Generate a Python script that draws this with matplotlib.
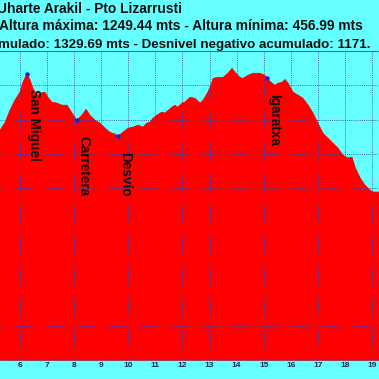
import matplotlib
matplotlib.use("Agg")
import matplotlib.pyplot as plt

# elevation profile (km, metres)
km = [5.08, 5.26, 5.45, 5.63, 5.81, 6.00, 6.11, 6.26, 6.37, 6.48, 6.63, 6.74, 6.92,
      7.03, 7.18, 7.37, 7.55, 7.74, 7.92, 8.10, 8.29, 8.44, 8.58, 8.77, 8.95,
      9.14, 9.32, 9.51, 9.62, 9.80, 9.99, 10.17, 10.36, 10.54, 10.69, 10.80,
      10.91, 11.06, 11.24, 11.35, 11.47, 11.61, 11.72, 11.83, 11.98, 12.09,
      12.28, 12.46, 12.65, 12.76, 12.94, 13.09, 13.13, 13.31, 13.50, 13.68,
      13.83, 13.94, 14.12, 14.23, 14.42, 14.60, 14.86, 15.05, 15.12, 15.31,
      15.42, 15.53, 15.68, 15.79, 15.90, 16.08, 16.27, 16.45, 16.64, 16.82,
      17.00, 17.19, 17.37, 17.56, 17.74, 17.93, 18.11, 18.26, 18.37, 18.56,
      18.74, 18.92, 19.04, 19.26, 19.40]
alt = [1046, 1069, 1092, 1127, 1156, 1180, 1209, 1234, 1215, 1191, 1171, 1177, 1180,
       1165, 1151, 1148, 1142, 1142, 1119, 1098, 1113, 1130, 1113, 1098, 1090,
       1075, 1063, 1058, 1052, 1063, 1075, 1078, 1084, 1078, 1090, 1092,
       1104, 1113, 1122, 1119, 1127, 1136, 1142, 1136, 1148, 1151,
       1165, 1162, 1148, 1156, 1180, 1209, 1220, 1223, 1223, 1235,
       1249.44, 1238, 1223, 1220, 1229, 1235, 1235, 1229, 1220, 1206,
       1200, 1206, 1209, 1217, 1206, 1180, 1171, 1162, 1142, 1119,
       1090, 1060, 1046, 1031, 1017, 996, 988, 991, 962, 930,
       909, 895, 889, 889, 885]

waypoints = ["San Miguel", "Carretera", "Desvío", "Igaratxa"]
wp_km = [6.26, 8.10, 9.62, 15.12]
wp_alt = [1234, 1098, 1052, 1220]

xticks = list(range(6, 20))

titles = [
    "Uharte Arakil - Pto Lizarrusti",
    "Altura máxima: 1249.44 mts - Altura mínima: 456.99 mts",
    "mulado: 1329.69 mts - Desnivel negativo acumulado: 1171.",
]

bg = "#66ffff"
plt.rcParams["font.family"] = ["Liberation Sans", "DejaVu Sans"]

fig = plt.figure(figsize=(3.79, 3.79), dpi=100, facecolor=bg)
ax = fig.add_axes([0, 1 - 360 / 379, 1, 309 / 379])
ax.set_facecolor(bg)

ax.fill_between(km, alt, 400, color="#ff0000", linewidth=0, zorder=2)
ax.plot(km, alt, color="#ff0000", linewidth=0.6, zorder=3)
ax.plot(wp_km, wp_alt, "o", color="#2020d0", markersize=2.2, zorder=5)

for name, x, y in zip(waypoints, wp_km, wp_alt):
    ax.text(x, y - 45, name, rotation=-90, ha="left", va="top",
            fontsize=9.8, fontweight="bold", color="#111111", zorder=6)

ax.set_xlim(5.261, 19.257)
ax.set_ylim(400, 1300)
ax.set_xticks(xticks)
ax.set_yticks(range(400, 1301, 100))
ax.set_yticklabels([])
ax.tick_params(axis="x", length=0, pad=1.5, labelsize=6, labelcolor="#1a2a5a")
ax.tick_params(axis="y", length=0)
for lab in ax.get_xticklabels():
    lab.set_fontweight("bold")
ax.grid(True, color="#3a40b0", linestyle=(0, (1, 1.2)), linewidth=0.7,
        alpha=0.8, zorder=4)
ax.set_axisbelow(False)
for side in ["left", "right"]:
    ax.spines[side].set_visible(False)
ax.spines["top"].set_color("#5080b0")
ax.spines["top"].set_linewidth(0.8)
ax.spines["bottom"].set_color("#a02040")
ax.spines["bottom"].set_linewidth(0.6)

baselines = [13, 30.5, 48]
starts = [-3, -1, -1.5]
sizes = [9.9, 9.9, 9.6]
for text, b, s, fs in zip(titles, baselines, starts, sizes):
    fig.text(s / 379, 1 - b / 379, text, ha="left", va="baseline",
             fontsize=fs, fontweight="bold", color="#111111")

fig.savefig("out.png", dpi=100, facecolor=bg)
